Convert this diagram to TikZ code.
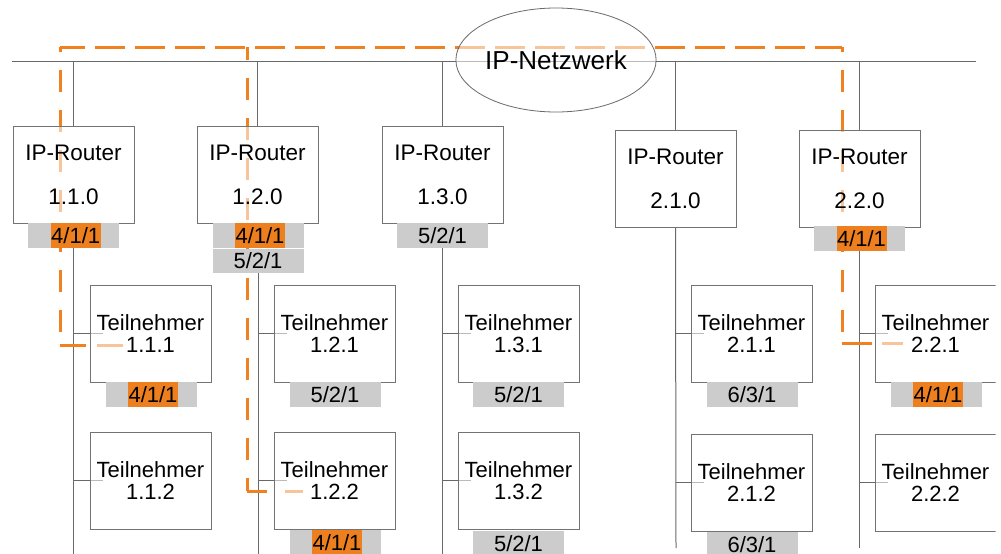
\documentclass[tikz,border=0pt]{standalone}
\usepackage{fontspec}
\setmainfont{Liberation Sans}
\usetikzlibrary{shapes.geometric}
\definecolor{routeorange}{RGB}{240,128,32}
\definecolor{hlorange}{RGB}{238,127,30}
\definecolor{lblgray}{RGB}{204,204,204}
\definecolor{boxgray}{RGB}{115,115,115}
\definecolor{busgray}{RGB}{105,105,105}
\pgfdeclarelayer{bg}
\pgfdeclarelayer{paper}
\pgfsetlayers{paper,bg,main}
\begin{document}
\begin{tikzpicture}[x=1pt,y=-1pt,
  bus/.style={draw=busgray,line width=1pt},
  box/.style={draw=boxgray,line width=1pt,fill=white,fill opacity=0.55,text opacity=1,
    inner sep=0pt,outer sep=0pt,anchor=north west,align=center,
    minimum width=121pt,minimum height=97pt},
  router/.style={box,font=\fontsize{22.5}{44}\selectfont},
  member/.style={box,font=\fontsize{22}{22}\selectfont},
  lbl/.style={fill=lblgray,inner sep=0pt,outer sep=0pt,anchor=north,
    minimum width=91pt,minimum height=25pt,font=\fontsize{22}{22}\selectfont},
  hl/.style={fill=hlorange,inner sep=0pt,outer sep=0pt,anchor=north,
    minimum width=50pt,minimum height=25pt,font=\fontsize{22}{22}\selectfont},
  route/.style={draw=routeorange,line width=3pt},
]
\useasboundingbox (0,0) rectangle (1001,554);
\begin{pgfonlayer}{paper}
\fill[white] (0,0) rectangle (1001,554);
\end{pgfonlayer}

% network bus ends
\coordinate (busL) at (12,61);
\coordinate (busR) at (976,61);

% routers
\node[router] (r11) at (13,126) {IP-Router\\1.1.0};
\node[router] (r12) at (197,126) {IP-Router\\1.2.0};
\node[router] (r13) at (382,126) {IP-Router\\1.3.0};
\node[router] (r21) at (615,130) {IP-Router\\2.1.0};
\node[router] (r22) at (799,130) {IP-Router\\2.2.0};

% router labels
\node[lbl] (r11l) at (73.5,223) {};
\node[hl]  (r11h) at (75.7,223) {4/1/1};
\node[lbl] (r12l) at (258,223) {};
\node[hl]  (r12h) at (260,223) {4/1/1};
\node[lbl,minimum height=24pt] (r12m) at (258,249) {5/2/1};
\node[lbl] (r13l) at (442.5,223) {5/2/1};
\node[lbl] (r22l) at (859.5,226) {};
\node[hl]  (r22h) at (861.5,226) {4/1/1};

% members
\node[member] (t111) at (90,285) {Teilnehmer\\1.1.1};
\node[member] (t112) at (90,432) {Teilnehmer\\1.1.2};
\node[member] (t121) at (274,285) {Teilnehmer\\1.2.1};
\node[member] (t122) at (274,432) {Teilnehmer\\1.2.2};
\node[member] (t131) at (458,285) {Teilnehmer\\1.3.1};
\node[member] (t132) at (458,432) {Teilnehmer\\1.3.2};
\node[member] (t211) at (691,285) {Teilnehmer\\2.1.1};
\node[member] (t212) at (691,434) {Teilnehmer\\2.1.2};
\begin{scope}
\clip (0,0) rectangle (995.5,554);
\node[member] (t221) at (875,285) {Teilnehmer\\2.2.1};
\node[member] (t222) at (875,434) {Teilnehmer\\2.2.2};
\end{scope}

% member labels
\node[lbl] (t111l) at (151,382) {};
\node[hl]  (t111h) at (153,382) {4/1/1};
\node[lbl] (t121l) at (335,382) {5/2/1};
\node[lbl] (t122l) at (335,530) {};
\node[hl]  (t122h) at (337,530) {4/1/1};
\node[lbl] (t131l) at (518.5,382) {5/2/1};
\node[lbl] (t132l) at (518.5,531) {5/2/1};
\node[lbl] (t211l) at (752,382) {6/3/1};
\node[lbl] (t212l) at (752,532) {6/3/1};
\node[lbl] (t221l) at (936,382) {};
\node[hl]  (t221h) at (938,382) {4/1/1};

% network cloud
\node[ellipse,draw=busgray,line width=0.8pt,fill=white,fill opacity=0.55,text opacity=1,
  inner sep=0pt,minimum width=184pt,minimum height=104pt,
  font=\fontsize{26}{26}\selectfont] (net) at (556,60) {IP-Netzwerk};

% bottom ends of the drop lines
\coordinate (b11) at (73.5,554);
\coordinate (b12) at (258,554);
\coordinate (b13) at (442.5,554);
\coordinate (b21) at (676,548);
\coordinate (b22) at (859.5,548);

% route corners
\coordinate (c1) at (60,47);
\coordinate (c2) at (60,345);
\coordinate (c3) at (125,345);
\coordinate (c4) at (247,47);
\coordinate (c5) at (247,491);
\coordinate (c6) at (303,491);
\coordinate (c7) at (842,47);
\coordinate (c8) at (842,343);
\coordinate (c9) at (903,343);

\begin{pgfonlayer}{bg}
\draw[bus] (busL) -- (busR);
\foreach \r in {r11,r12,r13,r21,r22}
  \draw[bus] (\r.north) -- (\r.north |- busL);
\draw[bus] (r11l.south) -- (b11);
\draw[bus] (r12m.south) -- (b12);
\draw[bus] (r13l.south) -- (b13);
\draw[bus] (r21.south) -- (b21);
\draw[bus] (r22l.south) -- (b22);
\draw[bus] (t111.west -| b11) -- ([xshift=13pt]t111.west);
\draw[bus] (t112.west -| b11) -- ([xshift=13pt]t112.west);
\draw[bus] (t121.west -| b12) -- ([xshift=13pt]t121.west);
\draw[bus] (t122.west -| b12) -- ([xshift=13pt]t122.west);
\draw[bus] (t131.west -| b13) -- ([xshift=13pt]t131.west);
\draw[bus] (t132.west -| b13) -- ([xshift=13pt]t132.west);
\draw[bus] (t211.west -| b21) -- ([xshift=13pt]t211.west);
\draw[bus] (t212.west -| b21) -- ([xshift=13pt]t212.west);
\draw[bus] (t221.west -| b22) -- ([xshift=13pt]t221.west);
\draw[bus] (t222.west -| b22) -- ([xshift=13pt]t222.west);

% orange route
\draw[route,dash pattern=on 30pt off 10pt,dash phase=5pt] (c1) -- (c7);
\draw[route,dash pattern=on 22pt off 18pt,dash phase=17pt] (c1) -- (c2);
\draw[route,dash pattern=on 26pt off 11pt] (c2) -- (c3);
\draw[route,dash pattern=on 22pt off 18pt,dash phase=9pt] (c4) -- (c5);
\draw[route,dash pattern=on 20pt off 18pt] (c5) -- (c6);
\draw[route,dash pattern=on 22pt off 18pt,dash phase=17pt] (c7) -- (c8);
\draw[route,dash pattern=on 30pt off 10pt] (c8) -- (c9);
\end{pgfonlayer}
\end{tikzpicture}
\end{document}
